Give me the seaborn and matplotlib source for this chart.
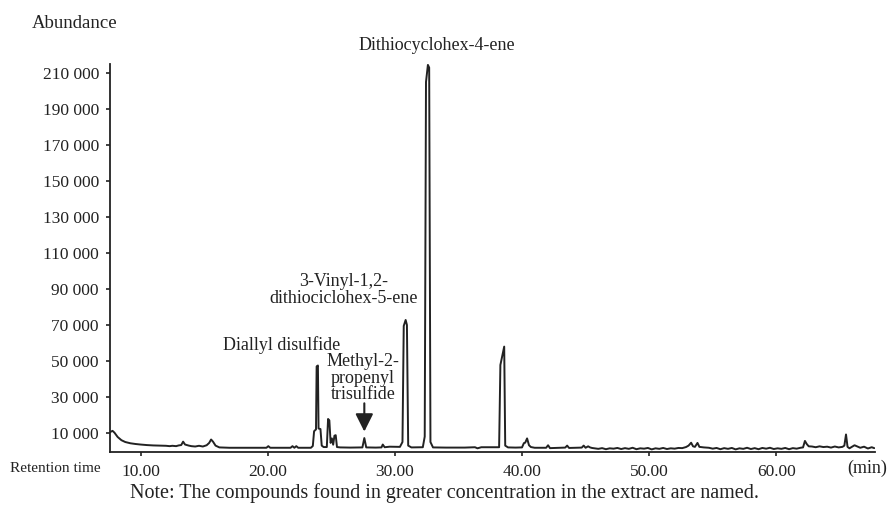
import numpy as np
import pandas as pd
import matplotlib
matplotlib.use("Agg")
import matplotlib.pyplot as plt
import seaborn as sns

# retention time (min) and abundance
time_min = [
    7.6, 7.8, 7.95, 8.2, 8.5, 8.8, 9.2, 9.6, 10.0, 10.5, 11.0, 11.5, 12.0, 12.3, 12.5,
    12.8, 13.0, 13.2, 13.35, 13.5, 13.8, 14.0, 14.3, 14.6, 14.9, 15.2, 15.4, 15.55, 15.7,
    15.9, 16.2, 17.0, 18.0, 19.0, 19.9, 20.05, 20.2, 21.0, 21.8, 21.95, 22.1, 22.25, 22.4,
    23.4, 23.55, 23.65, 23.8, 23.85, 23.95, 24.0, 24.15, 24.25, 24.4, 24.65, 24.75, 24.85,
    24.95, 25.05, 25.15, 25.25, 25.35, 25.45, 25.7, 26.5, 27.45, 27.6, 27.75, 28.5, 28.95,
    29.05, 29.2, 29.6, 30.4, 30.6, 30.7, 30.85, 30.95, 31.05, 31.3, 32.2, 32.35, 32.45,
    32.6, 32.7, 32.8, 33.0, 34.0, 35.5, 36.3, 36.5, 36.8, 38.2, 38.3, 38.6, 38.68, 38.9,
    39.5, 40.0, 40.15, 40.25, 40.4, 40.55, 40.7, 41.0, 41.9, 42.05, 42.2, 43.4, 43.55,
    43.7, 44.7, 44.85, 45.0, 45.2, 45.35, 45.5,
    46.0, 46.3, 46.6, 46.9, 47.2, 47.5, 47.8, 48.1, 48.4, 48.7, 49.0, 49.3, 49.6, 49.9,
    50.2, 50.5, 50.8, 51.1, 51.4, 51.7, 52.0, 52.3, 52.6, 52.9, 53.1, 53.3, 53.45, 53.6,
    53.8, 53.95, 54.3, 54.7, 55.0, 55.3, 55.6, 55.9, 56.2, 56.5, 56.8, 57.1, 57.4, 57.7,
    58.0, 58.3, 58.6, 58.9, 59.2, 59.5, 59.8, 60.1, 60.4, 60.7, 61.0, 61.3, 61.6, 61.9,
    62.1, 62.25, 62.4, 62.55, 62.8, 63.1, 63.4, 63.7, 64.0, 64.3, 64.6, 64.9, 65.2, 65.35,
    65.48, 65.6, 65.75, 66.0, 66.15, 66.35, 66.6, 66.9, 67.2, 67.5, 67.7,
]
abundance = [
    10500, 11200, 10200, 7800, 6000, 5000, 4300, 3900, 3600, 3300, 3100, 3000, 2900, 2700, 2900,
    2700, 3100, 3300, 5200, 3600, 3000, 2700, 2500, 2900, 2500, 3200, 4500, 6400, 5200,
    3000, 2000, 1800, 1800, 1800, 1800, 2700, 1800, 1800, 1800, 2700, 1800, 2700, 1800,
    1800, 2800, 11000, 12000, 47000, 47500, 12500, 12200, 3000, 2200, 2200, 17800, 17000,
    4500, 7000, 3500, 8500, 8800, 2200, 2000, 1900, 2000, 7200, 2000, 1900, 2000,
    3600, 2100, 2400, 2300, 5000, 69500, 72800, 70000, 3000, 2000, 2100, 8000, 205000,
    214500, 213000, 5000, 2000, 1900, 1900, 2100, 1500, 2100, 2100, 47800, 58000, 3000, 2000,
    1900, 2000, 4400, 4600, 7000, 3200, 2200, 1800, 1800, 3200, 1600, 1900, 3000,
    1700, 1900, 3000, 1800, 2600, 2000, 1700,
    1200, 1600, 1000, 1500, 1300, 1700, 1100, 1600, 1200, 1800, 1000, 1500, 1300, 1700,
    900, 1500, 1200, 1700, 1100, 1500, 1300, 1700, 1600, 2200, 3000, 4600, 2600, 2300,
    4500, 2300, 2000, 1800, 1300, 1700, 1000, 1600, 1200, 1700, 900, 1500, 1200, 1800,
    1100, 1600, 1000, 1700, 1300, 1800, 1100, 1500, 1200, 1700, 1000, 1600, 1300, 1800,
    2000, 5600, 3800, 2600, 2500, 2100, 2600, 2200, 2400, 1900, 2500, 2000, 2300, 3000,
    9200, 2300, 1500, 2600, 3200, 2600, 1800, 2400, 1400, 2100, 1600,
]

y_ticks = [10000, 30000, 50000, 70000, 90000, 110000, 130000, 150000, 170000, 190000, 210000]
y_tick_labels = [f"{v:,}".replace(",", " ") for v in y_ticks]
x_ticks = [10, 20, 30, 40, 50, 60]
x_tick_labels = [f"{v:.2f}" for v in x_ticks]

df = pd.DataFrame({"time": time_min, "abundance": abundance})

sns.set_theme(style="ticks")
plt.rcParams["font.family"] = ["Liberation Serif", "DejaVu Serif"]
ink = "#222222"

fig = plt.figure(figsize=(8.9, 5.08), dpi=100)
ax = fig.add_axes([110 / 890, 1 - 452 / 508, 765 / 890, 388 / 508])

sns.lineplot(data=df, x="time", y="abundance", ax=ax, color=ink, linewidth=1.4,
             estimator=None, sort=False)

ax.set_xlim(7.6, 67.76)
ax.set_ylim(-550, 215000)
ax.set_xticks(x_ticks)
ax.set_xticklabels(x_tick_labels)
ax.set_yticks(y_ticks)
ax.set_yticklabels(y_tick_labels)
ax.set_xlabel("")
ax.set_ylabel("")
ax.tick_params(axis="both", direction="out", length=3, width=1.2, color=ink,
               labelsize=12.5, labelcolor=ink)
ax.tick_params(axis="y", pad=5)
ax.tick_params(axis="x", pad=6)
sns.despine(ax=ax)
for side in ("left", "bottom"):
    ax.spines[side].set_linewidth(1.3)
    ax.spines[side].set_color(ink)

lab = dict(color=ink, fontsize=13, ha="center", va="center", linespacing=0.95)
ax.text(33.3, 225500, "Dithiocyclohex-4-ene", clip_on=False, **lab)
ax.text(26.0, 89500, "3-Vinyl-1,2-\ndithiociclohex-5-ene", **lab)
ax.text(21.1, 58900, "Diallyl disulfide", **lab)
ax.text(27.5, 40500, "Methyl-2-\npropenyl\ntrisulfide", **lab)
ax.annotate("", xy=(27.6, 10800), xytext=(27.6, 26500),
            arrowprops=dict(arrowstyle="-|>,head_length=0.6,head_width=0.3", color=ink,
                            lw=1.5, mutation_scale=18, shrinkA=0, shrinkB=0))

fig.text(32 / 890, 1 - 23 / 508, "Abundance", color=ink, fontsize=13.5, ha="left", va="center")
fig.text(10 / 890, 1 - 468 / 508, "Retention time", color=ink, fontsize=11, ha="left", va="center")
fig.text(847 / 890, 1 - 468 / 508, "(min)", color=ink, fontsize=13, ha="left", va="center")
fig.text(0.5, 1 - 493 / 508,
         "Note: The compounds found in greater concentration in the extract are named.",
         color=ink, fontsize=14.5, ha="center", va="center")

fig.savefig("out.png", dpi=100)
